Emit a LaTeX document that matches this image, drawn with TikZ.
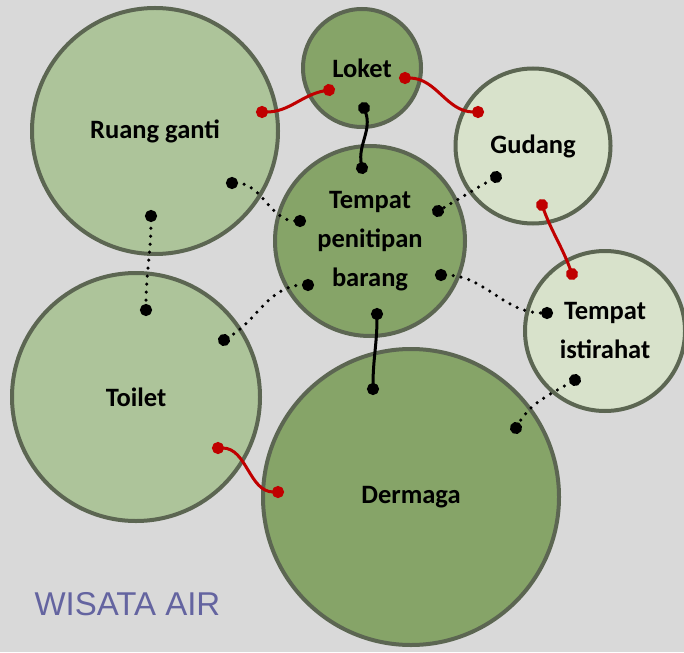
\documentclass[tikz,border=0pt]{standalone}
\usepackage{fontspec}
\setmainfont{Carlito}
\newfontfamily\titlefont{Liberation Sans}
\usetikzlibrary{arrows.meta}
\definecolor{bgray}{HTML}{D9D9D9}
\definecolor{rim}{HTML}{5C6652}
\definecolor{gdark}{HTML}{86A468}
\definecolor{gmid}{HTML}{ADC49A}
\definecolor{glight}{HTML}{D8E2CB}
\definecolor{linkred}{HTML}{C00000}
\definecolor{titleblue}{HTML}{6464A0}
\begin{document}
\begin{tikzpicture}[x=1pt,y=-1pt,
		room/.style={circle, draw=rim, line width=4pt, inner sep=0pt, align=center,
			font=\bfseries\fontsize{26.5}{39}\selectfont},
		ends/.style={{Circle[length=12pt]}-{Circle[length=12pt]}, shorten <=-6pt, shorten >=-6pt},
		near/.style={ends, line width=3pt, linkred},
		direct/.style={ends, line width=3pt, black},
		loose/.style={ends, line width=3.5pt, black, line cap=round, dash pattern=on 0pt off 8pt}]
		\fill[bgray] (0,0) rectangle (684,652);
		\useasboundingbox (0,0) rectangle (684,652);
		
		% rooms
		\node[room, fill=gmid, minimum size=246pt] (ganti) at (155,131) {Ruang ganti};
		\node[room, fill=gmid, minimum size=248pt] (toilet) at (136,397) {Toilet};
		\node[room, fill=gdark, minimum size=296pt] (dermaga) at (411,497) {Dermaga};
		\node[room, fill=gdark, minimum size=190pt] (titip) at (370,241) {Tempat\\penitipan\\barang};
		\node[room, fill=gdark, minimum size=118pt] (loket) at (362,68) {Loket};
		\node[room, fill=glight, minimum size=155pt] (gudang) at (533,146) {Gudang};
		\node[room, fill=glight, minimum size=160pt] (istirahat) at (605,331) {Tempat\\istirahat};
		
		% link ends
		\coordinate (ganti-a) at (262,112);
		\coordinate (loket-a) at (329,90);
		\coordinate (loket-b) at (405,78);
		\coordinate (gudang-a) at (478,112);
		\coordinate (gudang-b) at (542,205);
		\coordinate (istirahat-a) at (572,274);
		\coordinate (toilet-a) at (218,448);
		\coordinate (dermaga-a) at (278,492);
		\coordinate (loket-c) at (364,108);
		\coordinate (titip-a) at (362,168);
		\coordinate (titip-b) at (377,314);
		\coordinate (dermaga-b) at (373,389);
		\coordinate (ganti-b) at (232,183);
		\coordinate (titip-c) at (300,221);
		\coordinate (ganti-c) at (151,216);
		\coordinate (toilet-b) at (146,310);
		\coordinate (gudang-c) at (496,177);
		\coordinate (titip-d) at (438,211);
		\coordinate (titip-e) at (308,285);
		\coordinate (toilet-c) at (224,340);
		\coordinate (titip-f) at (441,275);
		\coordinate (istirahat-b) at (547,313);
		\coordinate (istirahat-c) at (575,380);
		\coordinate (dermaga-c) at (516,428);
		
		% close relations
		\draw[near] (ganti-a) to[out=0, in=190] (loket-a);
		\draw[near] (loket-b) to[out=0, in=180] (gudang-a);
		\draw[near] (gudang-b) to[out=-70, in=110] (istirahat-a);
		\draw[near] (toilet-a) to[out=0, in=180] (dermaga-a);
		
		% direct relations
		\draw[direct] (loket-c) to[out=-70, in=100] (titip-a);
		\draw[direct] (titip-b) to[out=-90, in=90] (dermaga-b);
		
		% loose relations
		\draw[loose] (ganti-b) to[out=0, in=180] (titip-c);
		\draw[loose] (ganti-c) to[out=-90, in=90] (toilet-b);
		\draw[loose] (gudang-c) to[out=-150, in=30] (titip-d);
		\draw[loose] (titip-e) to[out=180, in=30] (toilet-c);
		\draw[loose] (titip-f) to[out=0, in=180] (istirahat-b);
		\draw[loose] (istirahat-c) to[out=-150, in=60] (dermaga-c);
		
		\node[anchor=west, text=titleblue, font=\titlefont\fontsize{33}{36}\selectfont] (judul) at (31,604) {WISATA AIR};
	\end{tikzpicture}
\end{document}
